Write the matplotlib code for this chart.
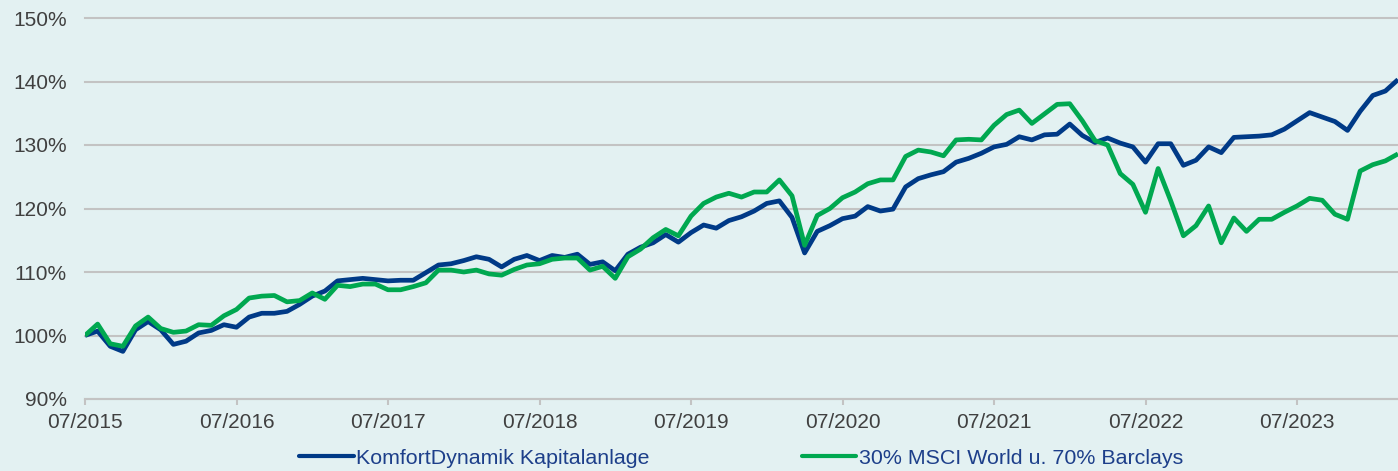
import matplotlib
matplotlib.use('Agg')
import matplotlib.pyplot as plt
import numpy as np

# monthly values 07/2015 .. 03/2024 (index in %)
komfort = [
    100.0, 100.7, 98.3, 97.5, 100.9, 102.2, 100.9, 98.6, 99.1, 100.4,
    100.8, 101.7, 101.3, 102.9, 103.5, 103.5, 103.8, 104.9, 106.2, 107.0,
    108.6, 108.8, 109.0, 108.8, 108.6, 108.7, 108.7, 109.9, 111.1, 111.3,
    111.8, 112.4, 112.0, 110.8, 112.0, 112.6, 111.8, 112.6, 112.3, 112.8,
    111.2, 111.6, 110.2, 112.8, 113.9, 114.6, 115.9, 114.7, 116.2, 117.4,
    116.9, 118.1, 118.7, 119.6, 120.8, 121.2, 118.6, 113.0, 116.4, 117.3,
    118.4, 118.8, 120.3, 119.6, 119.9, 123.4, 124.7, 125.3, 125.8, 127.3,
    127.9, 128.7, 129.7, 130.1, 131.3, 130.8, 131.6, 131.7, 133.3, 131.5,
    130.4, 131.1, 130.3, 129.7, 127.3, 130.2, 130.2, 126.8, 127.6, 129.7,
    128.8, 131.2, 131.3, 131.4, 131.6, 132.5, 133.8, 135.1, 134.4, 133.7,
    132.3, 135.3, 137.8, 138.5, 140.3,
]
benchmark = [
    100.0, 101.8, 98.7, 98.3, 101.5, 102.9, 101.1, 100.5, 100.7, 101.7,
    101.6, 103.1, 104.1, 105.9, 106.2, 106.3, 105.3, 105.5, 106.7, 105.7,
    107.9, 107.7, 108.1, 108.1, 107.2, 107.2, 107.7, 108.3, 110.3, 110.3,
    110.0, 110.3, 109.7, 109.5, 110.4, 111.1, 111.3, 112.0, 112.2, 112.2,
    110.3, 110.9, 109.0, 112.4, 113.6, 115.4, 116.7, 115.7, 118.8, 120.8,
    121.8, 122.4, 121.8, 122.6, 122.6, 124.5, 122.0, 114.2, 118.9, 120.0,
    121.7, 122.6, 123.9, 124.5, 124.5, 128.2, 129.2, 128.9, 128.3, 130.8,
    130.9, 130.8, 133.1, 134.8, 135.5, 133.4, 134.9, 136.4, 136.5, 133.8,
    130.7, 130.0, 125.5, 123.8, 119.4, 126.3, 121.2, 115.7, 117.3, 120.4,
    114.6, 118.5, 116.4, 118.3, 118.3, 119.4, 120.4, 121.6, 121.3, 119.1,
    118.3, 125.9, 126.9, 127.5, 128.6,
]
labels = ['KomfortDynamik Kapitalanlage', '30% MSCI World u. 70% Barclays']
tick_labels = ['07/2015', '07/2016', '07/2017', '07/2018', '07/2019',
               '07/2020', '07/2021', '07/2022', '07/2023']
y_ticks = [90, 100, 110, 120, 130, 140, 150]

bg = '#e3f1f2'
blue = '#003a87'
green = '#00a850'
grid_c = '#c3c3c3'
text_c = '#404040'

plt.rcParams['font.family'] = ['Liberation Sans', 'DejaVu Sans']

fig = plt.figure(figsize=(13.98, 4.71), dpi=100, facecolor=bg)
ax = fig.add_axes([85 / 1398, 72 / 471, 1313 / 1398, 381 / 471])
ax.set_facecolor(bg)

x = np.arange(len(komfort))
ax.plot(x, komfort, color=blue, lw=3.4, label=labels[0], solid_capstyle='butt', zorder=3)
ax.plot(x, benchmark, color=green, lw=3.4, label=labels[1], solid_capstyle='butt', zorder=4)

ax.set_xlim(0, len(komfort) - 1)
ax.set_ylim(90, 150)
ax.set_yticks(y_ticks)
ax.set_yticklabels([f'{v}%' for v in y_ticks])
ax.set_xticks(np.arange(len(tick_labels)) * 12)
ax.set_xticklabels(tick_labels)

ax.grid(axis='y', color=grid_c, lw=1.5, clip_on=False)
for s in ['top', 'right', 'left']:
    ax.spines[s].set_visible(False)
ax.spines['bottom'].set_color(grid_c)
ax.spines['bottom'].set_linewidth(1.5)
ax.tick_params(axis='y', length=0, pad=13, labelsize=15, labelcolor=text_c)
ax.tick_params(axis='x', length=4, width=1.5, color=grid_c, pad=6,
               labelsize=15, labelcolor=text_c)

leg = fig.legend(loc='center', bbox_to_anchor=(741 / 1398, 13 / 471), ncol=2,
                 frameon=False, fontsize=15.4, handlelength=2.55,
                 handletextpad=0.12, columnspacing=7.1)
for t in leg.get_texts():
    t.set_color('#1d3f8a')
for ln in leg.get_lines():
    ln.set_solid_capstyle('round')
    ln.set_linewidth(3.0)

fig.savefig('out.png', dpi=100, facecolor=bg)
